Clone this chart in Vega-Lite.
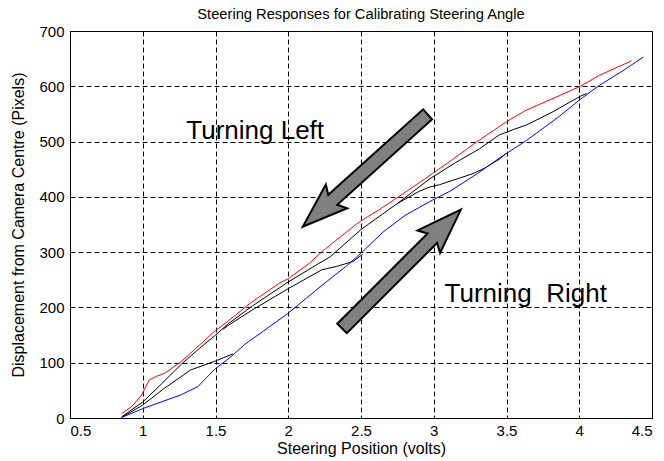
{
  "$schema": "https://vega.github.io/schema/vega-lite/v6.json",
  "width": 582,
  "height": 387,
  "autosize": "none",
  "padding": {"left": 70, "top": 31, "right": 12, "bottom": 43},
  "background": "white",
  "title": {"text": "Steering Responses for Calibrating Steering Angle", "font": "Liberation Sans", "fontSize": 14.7, "fontWeight": "normal", "color": "black", "offset": 2},
  "config": {
    "view": {"stroke": "black", "strokeWidth": 1},
    "axis": {"labelFont": "Liberation Sans", "titleFont": "Liberation Sans", "labelFontSize": 15, "titleFontSize": 16, "titleFontWeight": "normal", "labelColor": "black", "titleColor": "black", "grid": true, "gridColor": "black", "gridDash": [5, 3], "gridOpacity": 1, "gridWidth": 1, "ticks": false, "domain": false}
  },
  "datasets": {
    "lines": [
      {"s": "red", "x": 0.855, "y": 8}, {"s": "red", "x": 0.93, "y": 22}, {"s": "red", "x": 0.99, "y": 41}, {"s": "red", "x": 1.046, "y": 69}, {"s": "red", "x": 1.09, "y": 75}, {"s": "red", "x": 1.15, "y": 81}, {"s": "red", "x": 1.264, "y": 102}, {"s": "red", "x": 1.39, "y": 132}, {"s": "red", "x": 1.49, "y": 156}, {"s": "red", "x": 1.59, "y": 176}, {"s": "red", "x": 1.735, "y": 207}, {"s": "red", "x": 1.94, "y": 244}, {"s": "red", "x": 2.0, "y": 252}, {"s": "red", "x": 2.146, "y": 280}, {"s": "red", "x": 2.237, "y": 302}, {"s": "red", "x": 2.36, "y": 328}, {"s": "red", "x": 2.49, "y": 355}, {"s": "red", "x": 2.62, "y": 376}, {"s": "red", "x": 2.74, "y": 397}, {"s": "red", "x": 2.87, "y": 420}, {"s": "red", "x": 2.99, "y": 442}, {"s": "red", "x": 3.1, "y": 462}, {"s": "red", "x": 3.22, "y": 485}, {"s": "red", "x": 3.315, "y": 503}, {"s": "red", "x": 3.5, "y": 536}, {"s": "red", "x": 3.637, "y": 557}, {"s": "red", "x": 3.82, "y": 578}, {"s": "red", "x": 4.0, "y": 599}, {"s": "red", "x": 4.14, "y": 620}, {"s": "red", "x": 4.25, "y": 633}, {"s": "red", "x": 4.36, "y": 646},
      {"s": "A", "x": 0.855, "y": 2}, {"s": "A", "x": 1.0, "y": 29}, {"s": "A", "x": 1.13, "y": 62}, {"s": "A", "x": 1.264, "y": 97}, {"s": "A", "x": 1.39, "y": 126}, {"s": "A", "x": 1.5, "y": 150}, {"s": "A", "x": 1.59, "y": 171}, {"s": "A", "x": 1.75, "y": 202}, {"s": "A", "x": 2.0, "y": 246}, {"s": "A", "x": 2.15, "y": 270}, {"s": "A", "x": 2.29, "y": 292}, {"s": "A", "x": 2.5, "y": 341}, {"s": "A", "x": 2.75, "y": 388}, {"s": "A", "x": 2.975, "y": 433}, {"s": "A", "x": 3.15, "y": 462}, {"s": "A", "x": 3.315, "y": 487}, {"s": "A", "x": 3.45, "y": 512}, {"s": "A", "x": 3.55, "y": 522}, {"s": "A", "x": 3.637, "y": 530}, {"s": "A", "x": 3.82, "y": 554}, {"s": "A", "x": 4.0, "y": 581}, {"s": "A", "x": 4.05, "y": 587},
      {"s": "B", "x": 2.75, "y": 388}, {"s": "B", "x": 2.9, "y": 410}, {"s": "B", "x": 2.975, "y": 418}, {"s": "B", "x": 3.04, "y": 422}, {"s": "B", "x": 3.27, "y": 442}, {"s": "B", "x": 3.35, "y": 452}, {"s": "B", "x": 3.45, "y": 468}, {"s": "B", "x": 3.5, "y": 479},
      {"s": "C", "x": 0.855, "y": 1}, {"s": "C", "x": 1.0, "y": 23.5}, {"s": "C", "x": 1.15, "y": 54}, {"s": "C", "x": 1.33, "y": 87}, {"s": "C", "x": 1.49, "y": 102}, {"s": "C", "x": 1.62, "y": 116},
      {"s": "D", "x": 1.55, "y": 160}, {"s": "D", "x": 1.59, "y": 168}, {"s": "D", "x": 1.75, "y": 195}, {"s": "D", "x": 2.0, "y": 234}, {"s": "D", "x": 2.23, "y": 268}, {"s": "D", "x": 2.33, "y": 274}, {"s": "D", "x": 2.445, "y": 283}, {"s": "D", "x": 2.51, "y": 296},
      {"s": "blue", "x": 0.855, "y": 1}, {"s": "blue", "x": 1.0, "y": 17}, {"s": "blue", "x": 1.264, "y": 42}, {"s": "blue", "x": 1.38, "y": 57}, {"s": "blue", "x": 1.49, "y": 87}, {"s": "blue", "x": 1.62, "y": 114}, {"s": "blue", "x": 1.7, "y": 133}, {"s": "blue", "x": 1.86, "y": 163}, {"s": "blue", "x": 1.997, "y": 189}, {"s": "blue", "x": 2.19, "y": 231}, {"s": "blue", "x": 2.28, "y": 250}, {"s": "blue", "x": 2.4, "y": 275}, {"s": "blue", "x": 2.5, "y": 298}, {"s": "blue", "x": 2.65, "y": 336}, {"s": "blue", "x": 2.8, "y": 366}, {"s": "blue", "x": 2.99, "y": 394}, {"s": "blue", "x": 3.11, "y": 410}, {"s": "blue", "x": 3.3, "y": 442}, {"s": "blue", "x": 3.45, "y": 470}, {"s": "blue", "x": 3.637, "y": 502}, {"s": "blue", "x": 3.86, "y": 545}, {"s": "blue", "x": 4.0, "y": 575}, {"s": "blue", "x": 4.14, "y": 602}, {"s": "blue", "x": 4.3, "y": 628}, {"s": "blue", "x": 4.44, "y": 653}
    ],
    "labels": [
      {"text": "Turning Left", "x": 1.299, "y": 504},
      {"text": "Turning\u00a0 Right", "x": 3.074, "y": 210}
    ],
    "arrowLeft": [{"x": 2.529, "y": 447.6}],
    "arrowRight": [{"x": 2.778, "y": 269.4}]
  },
  "encoding": {
    "x": {"field": "x", "type": "quantitative", "scale": {"domain": [0.5, 4.5], "nice": false, "zero": false}, "axis": {"title": "Steering Position (volts)", "values": [0.5, 1, 1.5, 2, 2.5, 3, 3.5, 4, 4.5], "format": "~g", "labelPadding": 5, "titlePadding": 2}},
    "y": {"field": "y", "type": "quantitative", "scale": {"domain": [0, 700], "nice": false}, "axis": {"title": "Displacement from Camera Centre (Pixels)", "values": [0, 100, 200, 300, 400, 500, 600, 700], "labelPadding": 6, "titlePadding": 12}}
  },
  "layer": [
    {
      "data": {"name": "lines"},
      "mark": {"type": "line", "strokeWidth": 1, "clip": true},
      "encoding": {
        "color": {"field": "s", "type": "nominal", "scale": {"domain": ["A", "B", "C", "D", "red", "blue"], "range": ["black", "black", "black", "black", "#ff0000", "#0000ff"]}, "legend": null}
      }
    },
    {
      "data": {"name": "arrowLeft"},
      "mark": {"type": "point", "shape": "M -1,-0.08 L 0.52,-0.08 L 0.46,-0.19 L 1,0 L 0.46,0.19 L 0.52,0.08 L -1,0.08 Z", "size": 28224, "angle": 138, "filled": true, "fill": "#808080", "stroke": "black", "strokeWidth": 2, "opacity": 1, "fillOpacity": 1}
    },
    {
      "data": {"name": "arrowRight"},
      "mark": {"type": "point", "shape": "M -1,-0.08 L 0.52,-0.08 L 0.46,-0.19 L 1,0 L 0.46,0.19 L 0.52,0.08 L -1,0.08 Z", "size": 28224, "angle": 315, "filled": true, "fill": "#808080", "stroke": "black", "strokeWidth": 2, "opacity": 1, "fillOpacity": 1}
    },
    {
      "data": {"name": "labels"},
      "mark": {"type": "text", "align": "left", "baseline": "alphabetic", "font": "Liberation Sans", "fontSize": 26, "color": "black"},
      "encoding": {"text": {"field": "text", "type": "nominal"}}
    }
  ]
}
